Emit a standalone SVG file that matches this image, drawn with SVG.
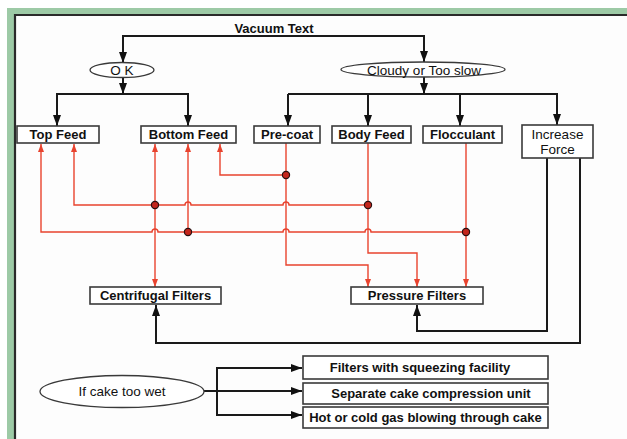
<svg xmlns="http://www.w3.org/2000/svg" width="627" height="439" viewBox="0 0 627 439">
<style>
.bg{fill:#9dcaa6}
.panel{fill:#fdfdfd}
.frame{stroke:#2a2a2a;stroke-width:2.2;fill:none}
.box{fill:#fff;stroke:#3a3a3a;stroke-width:1.6}
.ell{fill:#fff;stroke:#3a3a3a;stroke-width:1.3}
.bl{fill:none;stroke:#1a1a1a;stroke-width:2}
.rd{fill:none;stroke:#e8432e;stroke-width:1.4}
.dot{fill:#c4261c;stroke:#2a1010;stroke-width:1.2}
.tb{font-family:"Liberation Sans",Arial,sans-serif;font-weight:bold;font-size:13px;fill:#111;text-anchor:middle}
.tr{font-family:"Liberation Sans",Arial,sans-serif;font-size:13.5px;fill:#111;text-anchor:middle}
</style>
<defs>
<marker id="ab" viewBox="0 0 11 8" markerWidth="11" markerHeight="8" refX="11" refY="4" orient="auto" markerUnits="userSpaceOnUse"><path d="M0,0 L11,4 L0,8 z" fill="#111"/></marker>
<marker id="ar" viewBox="0 0 8 6" markerWidth="8" markerHeight="6" refX="8" refY="3" orient="auto" markerUnits="userSpaceOnUse"><path d="M0,0 L8,3 L0,6 z" fill="#e8432e"/></marker>
</defs>
<rect class="bg" x="7" y="8" width="620" height="431"/>
<rect class="panel" x="15" y="15" width="612" height="424"/>
<path class="frame" d="M15,439 V15 H627"/>

<g id="connectors">
<g id="black">
<path class="bl" d="M123,63 V36 H424 V62" marker-end="url(#ab)"/>
<path class="bl" d="M123,36 V63" marker-end="url(#ab)"/>
<path class="bl" d="M123,77 V94" marker-end="url(#ab)"/>
<path class="bl" d="M57,126 V94 H188 V126" marker-end="url(#ab)"/>
<path class="bl" d="M57,94 V126" marker-end="url(#ab)"/>
<path class="bl" d="M424,77 V94" marker-end="url(#ab)"/>
<path class="bl" d="M288,94 H557 V125" marker-end="url(#ab)"/>
<path class="bl" d="M288,94 V126" marker-end="url(#ab)"/>
<path class="bl" d="M368,94 V126" marker-end="url(#ab)"/>
<path class="bl" d="M460,94 V126" marker-end="url(#ab)"/>
<path class="bl" d="M547,158 V331 H417 V305" marker-end="url(#ab)"/>
<path class="bl" d="M580,158 V343 H156 V305" marker-end="url(#ab)"/>
<path class="bl" d="M204,391 H302" marker-end="url(#ab)"/>
<path class="bl" d="M302,368 H217 V415 H302" marker-end="url(#ab)"/>
<path class="bl" d="M217,368 H302" marker-end="url(#ab)"/>
</g>
<g id="red">
<path class="rd" d="M466,232 H371 A3,3 0 0 0 365,232 H289 A3,3 0 0 0 283,232 H158 A3,3 0 0 0 152,232 H41 V144" marker-end="url(#ar)"/>
<path class="rd" d="M368,205 H289 A3,3 0 0 0 283,205 H191 A3,3 0 0 0 185,205 H74 V144" marker-end="url(#ar)"/>
<path class="rd" d="M368,143 V253 H417 V287" marker-end="url(#ar)"/>
<path class="rd" d="M286,143 V265 H368 V287" marker-end="url(#ar)"/>
<path class="rd" d="M286,175 H220 V144" marker-end="url(#ar)"/>
<path class="rd" d="M466,143 V287" marker-end="url(#ar)"/>
<path class="rd" d="M155,205 V144" marker-end="url(#ar)"/>
<path class="rd" d="M155,205 V287" marker-end="url(#ar)"/>
<path class="rd" d="M188,232 V144" marker-end="url(#ar)"/>
<circle class="dot" cx="286" cy="175" r="3.6"/>
<circle class="dot" cx="368" cy="205" r="3.6"/>
<circle class="dot" cx="155" cy="205" r="3.6"/>
<circle class="dot" cx="188" cy="232" r="3.6"/>
<circle class="dot" cx="466" cy="232" r="3.6"/>
</g>
</g>

<g id="vacuum"><text class="tb" x="274" y="33">Vacuum Text</text></g>
<g id="ok"><ellipse class="ell" cx="122" cy="70" rx="32" ry="7.5"/><text class="tr" x="122" y="75">O K</text></g>
<g id="cloudy"><ellipse class="ell" cx="423" cy="69.5" rx="82" ry="7.5"/><text class="tr" x="424" y="74.5">Cloudy or Too slow</text></g>
<g id="topfeed"><rect class="box" x="17" y="126" width="82" height="17"/><text class="tb" x="58" y="139">Top Feed</text></g>
<g id="bottomfeed"><rect class="box" x="141" y="126" width="95" height="17"/><text class="tb" x="188.5" y="139">Bottom Feed</text></g>
<g id="precoat"><rect class="box" x="254" y="126" width="66" height="17"/><text class="tb" x="287" y="139">Pre-coat</text></g>
<g id="bodyfeed"><rect class="box" x="332" y="126" width="79" height="17"/><text class="tb" x="371.5" y="139">Body Feed</text></g>
<g id="flocculant"><rect class="box" x="423" y="126" width="79" height="17"/><text class="tb" x="462.5" y="139">Flocculant</text></g>
<g id="increaseforce"><rect class="box" x="522" y="125" width="71" height="33"/><text class="tr" x="557.5" y="139">Increase</text><text class="tr" x="557.5" y="154">Force</text></g>
<g id="centrifugal"><rect class="box" x="90" y="287" width="131" height="17"/><text class="tb" x="155.5" y="300">Centrifugal Filters</text></g>
<g id="pressure"><rect class="box" x="351" y="287" width="132" height="17"/><text class="tb" x="417" y="300">Pressure Filters</text></g>
<g id="wet"><ellipse class="ell" cx="122" cy="391.5" rx="82" ry="16"/><text class="tr" x="122" y="396">If cake too wet</text></g>
<g id="squeeze"><rect class="box" x="303" y="356" width="245" height="23"/><text class="tb" x="420" y="372">Filters with squeezing facility</text></g>
<g id="compress"><rect class="box" x="303" y="383" width="245" height="21"/><text class="tb" x="431" y="398">Separate cake compression unit</text></g>
<g id="gas"><rect class="box" x="303" y="407" width="245" height="21"/><text class="tb" x="425.5" y="422">Hot or cold gas blowing through cake</text></g>
</svg>
